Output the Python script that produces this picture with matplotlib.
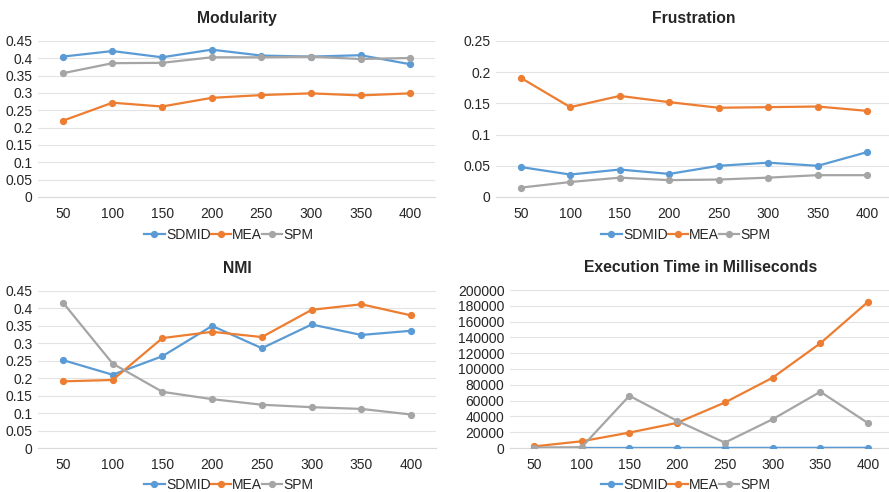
import matplotlib
matplotlib.use("Agg")
import matplotlib.pyplot as plt
from matplotlib.ticker import FuncFormatter
from matplotlib.lines import Line2D

plt.rcParams['font.family'] = ['Liberation Sans', 'DejaVu Sans']

# Network sizes (category axis)
sizes = ["50", "100", "150", "200", "250", "300", "350", "400"]
series_names = ["SDMID", "MEA", "SPM"]

# Modularity
mod_sdmid = [0.405, 0.421, 0.403, 0.425, 0.408, 0.405, 0.409, 0.383]
mod_mea = [0.220, 0.272, 0.261, 0.286, 0.294, 0.299, 0.293, 0.299]
mod_spm = [0.357, 0.386, 0.387, 0.403, 0.403, 0.405, 0.398, 0.401]

# Frustration
fru_sdmid = [0.048, 0.036, 0.044, 0.037, 0.050, 0.055, 0.050, 0.072]
fru_mea = [0.191, 0.144, 0.162, 0.152, 0.143, 0.144, 0.145, 0.138]
fru_spm = [0.015, 0.024, 0.031, 0.027, 0.028, 0.031, 0.035, 0.035]

# NMI
nmi_sdmid = [0.252, 0.210, 0.263, 0.350, 0.286, 0.354, 0.324, 0.336]
nmi_mea = [0.191, 0.195, 0.315, 0.333, 0.318, 0.396, 0.412, 0.380]
nmi_spm = [0.417, 0.242, 0.161, 0.140, 0.124, 0.117, 0.112, 0.096]

# Execution time (ms)
time_sdmid = [30, 60, 90, 120, 150, 190, 230, 280]
time_mea = [2000, 8500, 19500, 31800, 57600, 89000, 132600, 185200]
time_spm = [500, 1000, 66100, 34300, 6800, 36400, 71200, 31400]

colors = ["#5B9BD5", "#ED7D31", "#A5A5A5"]
text_color = "#262626"
grid_color = "#E3E3E3"

W, H = 889, 492
fig = plt.figure(figsize=(W / 100, H / 100), dpi=100)


def px_axes(left, right, top, bottom):
    return fig.add_axes([left / W, 1 - bottom / H, (right - left) / W, (bottom - top) / H])


def fmt_general(v, _pos):
    s = f"{v:.2f}".rstrip("0").rstrip(".")
    return s


panels = [
    ("Modularity", (38, 435, 41, 197), (mod_sdmid, mod_mea, mod_spm), 0.45, 0.05, fmt_general, (229, 235)),
    ("Frustration", (496, 892, 41, 197), (fru_sdmid, fru_mea, fru_spm), 0.25, 0.05, fmt_general, (686, 235)),
    ("NMI", (38, 436, 291, 448), (nmi_sdmid, nmi_mea, nmi_spm), 0.45, 0.05, fmt_general, (229, 485)),
    ("Execution Time in Milliseconds", (510, 892, 290, 448), (time_sdmid, time_mea, time_spm), 200000, 20000,
     lambda v, p: f"{int(round(v))}", (686, 485)),
]

for title, (l, r, t, b), data, ymax, step, fmt, (lx, ly) in panels:
    ax = px_axes(l, r, t, b)
    x = list(range(len(sizes)))
    for vals, c in zip(data, colors):
        ax.plot(x, vals, color=c, lw=1.6, marker="o", markersize=4.2,
                markeredgecolor=c, markerfacecolor=c, solid_capstyle="round", zorder=3)
    ax.set_xlim(-0.5, len(sizes) - 0.5)
    ax.set_ylim(0, ymax)
    n = int(round(ymax / step))
    ax.set_yticks([i * step for i in range(n + 1)])
    ax.yaxis.set_major_formatter(FuncFormatter(fmt))
    ax.set_xticks(x)
    ax.set_xticklabels(sizes)
    ax.grid(axis="y", color=grid_color, lw=0.8, zorder=0)
    ax.set_axisbelow(True)
    for s in ("top", "right", "left"):
        ax.spines[s].set_visible(False)
    ax.spines["bottom"].set_color("#D9D9D9")
    ax.spines["bottom"].set_linewidth(0.8)
    ax.tick_params(axis="both", length=0, labelsize=10, colors=text_color)
    ax.tick_params(axis="x", pad=7)
    ax.tick_params(axis="y", pad=4)
    ax.set_title(title, fontsize=11.3, fontweight="bold", color=text_color, pad=13)

    handles = [Line2D([0], [0], color=c, lw=1.6, marker="o", markersize=4.2) for c in colors]
    fig.legend(handles, series_names, loc="center", bbox_to_anchor=(lx / W, 1 - ly / H),
               ncol=3, frameon=False, fontsize=10, handlelength=1.45, handletextpad=0.1,
               columnspacing=0.0, labelcolor=text_color, borderpad=0)

fig.savefig("out.png", dpi=100, facecolor="white")
